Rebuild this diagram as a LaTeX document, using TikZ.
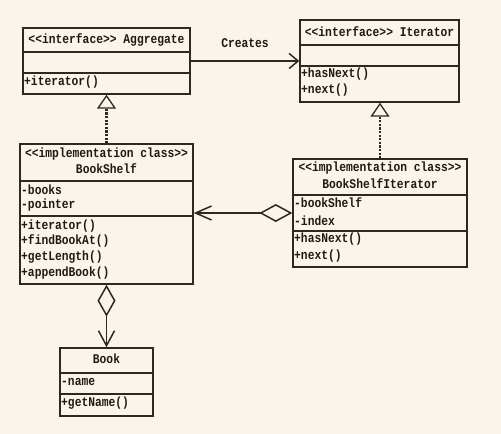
\documentclass[tikz,border=0pt]{standalone}
\usepackage{fontspec}
\setmainfont{Liberation Mono}[Ligatures=TeXOff, FakeStretch=0.85]
\usetikzlibrary{arrows.meta}
\definecolor{bg}{RGB}{251,244,235}
\definecolor{ink}{RGB}{45,40,35}
\definecolor{tink}{RGB}{30,26,22}
\tikzset{
  cls/.style={draw=ink, line width=1.4pt, inner sep=0pt, rectangle},
  divl/.style={draw=ink, line width=1.4pt},
  txt/.style={inner sep=0pt, anchor=west, text=tink, font=\fontsize{13.3}{15}\selectfont\bfseries},
  ttl/.style={inner sep=0pt, text=tink, font=\fontsize{13.3}{15}\selectfont\bfseries},
  conn/.style={draw=ink, line width=1.8pt},
  realize/.style={draw=ink, line width=2.2pt, dash pattern=on 2.2pt off 1.4pt, -{Triangle[open,length=14pt,width=19pt,line width=1.3pt]}},
}
\begin{document}
\begin{tikzpicture}[x=1pt,y=-1pt]
\fill[bg] (0,0) rectangle (501,434);
\useasboundingbox (0,0) rectangle (501,434);
% Aggregate
\node[cls, minimum width=167pt, minimum height=66pt] (agg) at (106.5,61) {};
\draw[divl] (23,52) -- (190,52);
\draw[divl] (23,73) -- (190,73);
\node[ttl] (aggT) at (106.5,40) {<<interface>> Aggregate};
\node[txt] (aggM1) at (24,82) {+iterator()};
% Iterator
\node[cls, minimum width=159pt, minimum height=82pt] (it) at (379.5,61) {};
\draw[divl] (300,45) -- (459,45);
\draw[divl] (300,66) -- (459,66);
\node[ttl] (itT) at (379.5,32) {<<interface>> Iterator};
\node[txt] (itM1) at (301,74) {+hasNext()};
\node[txt] (itM2) at (301,90) {+next()};
% BookShelf
\node[cls, minimum width=173pt, minimum height=140pt] (bs) at (106.5,214) {};
\draw[divl] (20,181) -- (193,181);
\draw[divl] (20,216) -- (193,216);
\node[ttl] (bsT1) at (106.5,154) {<<implementation class>>};
\node[ttl] (bsT2) at (106.5,169) {BookShelf};
\node[txt] (bsA1) at (21,190) {-books};
\node[txt] (bsA2) at (21,205) {-pointer};
\node[txt] (bsM1) at (21,226) {+iterator()};
\node[txt] (bsM2) at (21,241) {+findBookAt()};
\node[txt] (bsM3) at (21,257) {+getLength()};
\node[txt] (bsM4) at (21,273) {+appendBook()};
% BookShelfIterator
\node[cls, minimum width=174pt, minimum height=108pt] (bsi) at (380,213) {};
\draw[divl] (293,195) -- (467,195);
\draw[divl] (293,231) -- (467,231);
\node[ttl] (bsiT1) at (380,168) {<<implementation class>>};
\node[ttl] (bsiT2) at (380,184) {BookShelfIterator};
\node[txt] (bsiA1) at (294,203) {-bookShelf};
\node[txt] (bsiA2) at (294,221) {-index};
\node[txt] (bsiM1) at (294,239) {+hasNext()};
\node[txt] (bsiM2) at (294,256) {+next()};
% Book
\node[cls, minimum width=93pt, minimum height=68pt] (book) at (106.5,382) {};
\draw[divl] (60,373) -- (153,373);
\draw[divl] (60,394) -- (153,394);
\node[ttl] (bookT) at (106.5,359) {Book};
\node[txt] (bookA1) at (61,382) {-name};
\node[txt] (bookM1) at (61,403) {+getName()};
% connectors
\draw[conn, -{Straight Barb[length=9pt,width=15pt,line width=1.5pt]}] (agg.east) -- node[ttl, above=12pt] (cr) {Creates} (it.west);
\draw[realize] (bs.north) -- (agg.south);
\draw[realize] (bsi.north) -- (bsi.north |- it.south);
\draw[conn, {Diamond[open,length=33pt,width=18pt,line width=1.5pt]}-{Straight Barb[length=16pt,width=14pt,line width=1.5pt]}] (bsi.west) -- (bsi.west -| bs.east);
\draw[conn, {Diamond[open,length=32pt,width=18pt,line width=1.5pt]}-{Straight Barb[length=15pt,width=16pt,line width=1.5pt]}] (bs.south) -- (book.north);
\end{tikzpicture}
\end{document}
